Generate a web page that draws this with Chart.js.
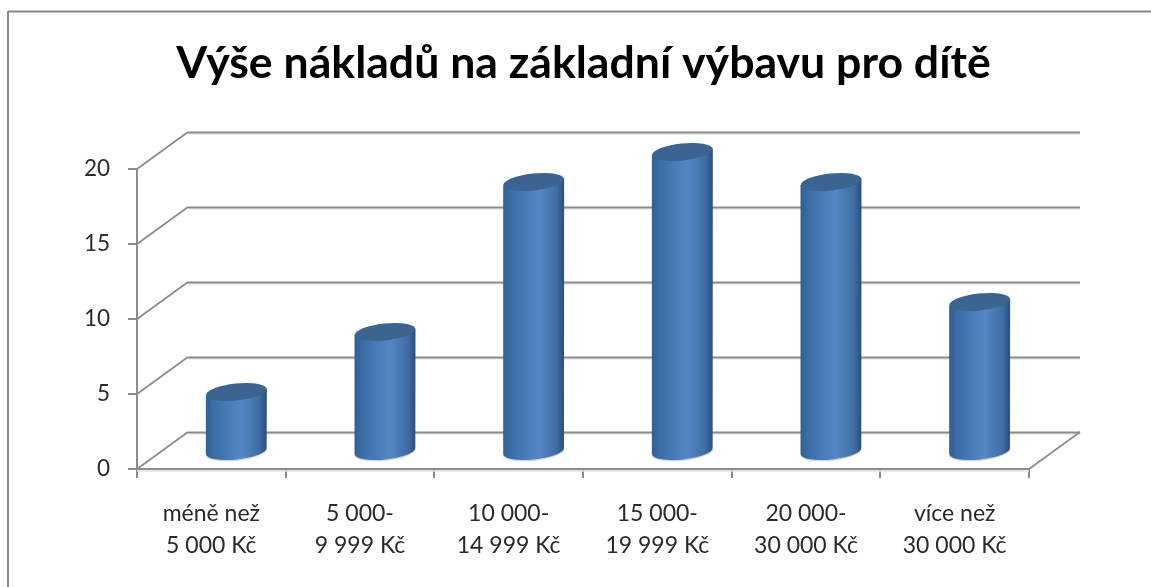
<!DOCTYPE html>
<html>
<head>
<meta charset="utf-8">
<title>Výše nákladů</title>
<script src="https://cdn.jsdelivr.net/npm/chart.js@4"></script>
<style>
  body { margin: 0; background: #fff; }
  canvas { display: block; }
</style>
</head>
<body>
<canvas id="chart" width="1151" height="587"></canvas>
<script>
const chartTitle = "Výše nákladů na základní výbavu pro dítě";
const categories = [
  ["méně než", "5 000 Kč"],
  ["5 000-", "9 999 Kč"],
  ["10 000-", "14 999 Kč"],
  ["15 000-", "19 999 Kč"],
  ["20 000-", "30 000 Kč"],
  ["více než", "30 000 Kč"]
];
const values = [4, 8, 18, 20, 18, 10];
const yTicks = [0, 5, 10, 15, 20];

const lineGrey = "#8c8c8c";

function line(ctx, x1, y1, x2, y2, color, width) {
  ctx.strokeStyle = color;
  ctx.lineWidth = width;
  ctx.beginPath();
  ctx.moveTo(x1, y1);
  ctx.lineTo(x2, y2);
  ctx.stroke();
}

// fake 3D: back wall, floor and outer frame
const wallPlugin = {
  id: "wall",
  beforeDatasetsDraw(chart) {
    const ctx = chart.ctx;
    const area = chart.chartArea;
    const y = chart.scales.y;
    const dx = 51, dy = -37;
    ctx.save();
    // frame is cut off by the picture on the right and bottom
    line(ctx, 8, 11.5, 1151, 11.5, "#8a8a8a", 2);
    line(ctx, 8, 11, 8, 587, "#8a8a8a", 2);
    yTicks.forEach(v => {
      const py = Math.round(y.getPixelForValue(v));
      line(ctx, area.left + dx, py + dy + 2, area.right + dx, py + dy + 2, "#e8e8e8", 1.5);
      line(ctx, area.left + dx, py + dy + 0.5, area.right + dx, py + dy + 0.5, lineGrey, 2);
      line(ctx, area.left, py, area.left + dx, py + dy, lineGrey, 1.8);
    });
    // floor
    const base = y.getPixelForValue(0);
    line(ctx, area.right, base, area.right + dx, base + dy, lineGrey, 1.8);
    line(ctx, area.left, base + 2, area.right, base + 2, "#e0e0e0", 1.5);
    ctx.restore();
  },
  // cylinders are drawn from the bar elements the library laid out
  afterDatasetsDraw(chart) {
    const ctx = chart.ctx;
    const bars = chart.getDatasetMeta(0).data;
    const shiftX = 25, shiftY = -17;
    const tilt = 3.2, ry = 8.5;
    const angle = Math.atan2(-tilt, 30);
    ctx.save();
    bars.forEach(bar => {
      const cx = bar.x + shiftX;
      const top = bar.y + shiftY;
      const bottom = bar.base + shiftY;
      const rx = bar.width / 2;

      const grad = ctx.createLinearGradient(cx - rx, 0, cx + rx, 0);
      grad.addColorStop(0, "#2f5f95");
      grad.addColorStop(0.12, "#3a6da6");
      grad.addColorStop(0.58, "#5587c6");
      grad.addColorStop(0.88, "#3f6da3");
      grad.addColorStop(1, "#2a4e79");

      // pale halo round the lower edge
      ctx.beginPath();
      ctx.ellipse(cx, bottom + 0.8, rx + 0.5, ry + 0.5, angle, 0, Math.PI);
      ctx.fillStyle = "#c5d5e8";
      ctx.fill();

      ctx.beginPath();
      ctx.moveTo(cx - rx, top + tilt);
      ctx.lineTo(cx - rx, bottom + tilt);
      ctx.ellipse(cx, bottom, rx, ry, angle, Math.PI, 0, true);
      ctx.lineTo(cx + rx, top - tilt);
      ctx.closePath();
      ctx.fillStyle = grad;
      ctx.fill();

      ctx.beginPath();
      ctx.ellipse(cx, top, rx, ry, angle, 0, Math.PI * 2);
      ctx.fillStyle = "#3c6491";
      ctx.fill();
    });
    ctx.restore();
  }
};

new Chart(document.getElementById("chart"), {
  type: "bar",
  plugins: [wallPlugin],
  data: {
    labels: categories,
    datasets: [{
      data: values,
      backgroundColor: "rgba(0,0,0,0)",
      borderWidth: 0,
      categoryPercentage: 1,
      barPercentage: 0.41
    }]
  },
  options: {
    responsive: false,
    animation: false,
    layout: { padding: { left: 16, right: 0, top: 0, bottom: 0 } },
    plugins: {
      legend: { display: false },
      tooltip: { enabled: false },
      title: {
        display: true,
        text: chartTitle,
        color: "#000",
        font: { family: "Lato", size: 44.6, weight: "bold", lineHeight: "44px" },
        padding: { top: 42, bottom: 83 }
      }
    },
    scales: {
      x: {
        grid: { drawOnChartArea: false, tickLength: 9, color: lineGrey, lineWidth: 2 },
        border: { color: lineGrey, width: 2 },
        ticks: {
          color: "#2a2a2a",
          padding: 20,
          maxRotation: 0,
          autoSkip: false,
          font: { family: "Lato", size: 23, lineHeight: "32px" }
        },
        afterFit(scale) { scale.height = 118; }
      },
      y: {
        min: 0,
        max: 20,
        grid: { drawOnChartArea: false, tickLength: 9, color: lineGrey, lineWidth: 2 },
        border: { color: lineGrey, width: 2 },
        afterBuildTicks(scale) { scale.ticks = yTicks.map(v => ({ value: v })); },
        ticks: {
          color: "#2a2a2a",
          padding: 18,
          font: { family: "Lato", size: 22.5 }
        },
        afterFit(scale) { scale.width = 121; }
      },
      // empty axis, only keeps the plot clear of the right side
      right: {
        position: "right",
        grid: { display: false },
        border: { display: false },
        ticks: { display: false },
        afterFit(scale) { scale.width = 122; }
      }
    }
  }
});
</script>
</body>
</html>
